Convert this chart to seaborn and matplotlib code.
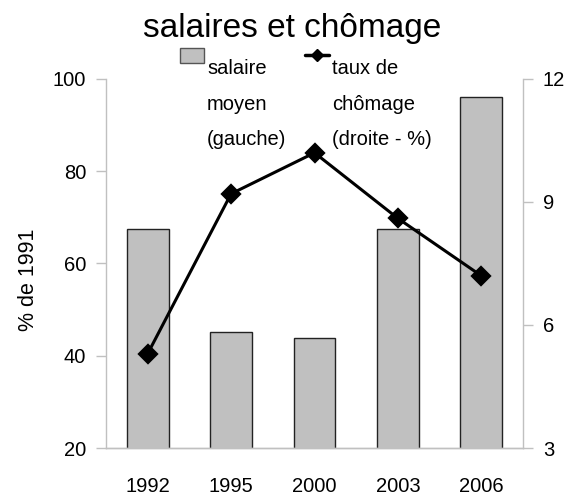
import pandas as pd
import matplotlib.pyplot as plt
import seaborn as sns
from matplotlib.patches import Patch
from matplotlib.lines import Line2D

# data
years = ["1992", "1995", "2000", "2003", "2006"]
salaire = [67.5, 45.2, 43.9, 67.5, 96.2]      # % de 1991 (left axis)
chomage = [5.3, 9.2, 10.2, 8.6, 7.2]          # % (right axis)

df = pd.DataFrame({"annee": years, "salaire": salaire, "chomage": chomage})

sns.set_style("white")
plt.rcParams["font.family"] = ["Liberation Sans", "DejaVu Sans"]
plt.rcParams["text.color"] = "black"
plt.rcParams["axes.labelcolor"] = "black"

grey = "#C0C0C0"
fs = 14.5

fig = plt.figure(figsize=(5.68, 4.98), dpi=100)
ax = fig.add_axes([0.1866, 0.1004, 0.7342, 0.741])

sns.barplot(data=df, x="annee", y="salaire", color="#C0C0C0", saturation=1,
            width=0.5, edgecolor="#222222", linewidth=1, ax=ax)

ax2 = ax.twinx()
sns.pointplot(data=df, x="annee", y="chomage", color="black", markers="D",
              linestyles="-", linewidth=2.2, markersize=9, ax=ax2)

ax.set_ylim(20, 100)
ax.set_yticks([20, 40, 60, 80, 100])
ax2.set_ylim(3, 12)
ax2.set_yticks([3, 6, 9, 12])
ax.set_xlim(-0.5, 4.5)

for a in (ax, ax2):
    for s in a.spines.values():
        s.set_color(grey)
        s.set_linewidth(1)
    a.spines["top"].set_visible(False)
    a.tick_params(colors=grey, labelcolor="black", labelsize=fs,
                  length=7.2, width=1, direction="out", pad=7)
    a.set_xlabel("")
ax2.spines["left"].set_visible(False)
ax.spines["right"].set_visible(False)
ax2.set_ylabel("")
ax.set_ylabel("% de 1991", fontsize=15.5, labelpad=10)
ax.yaxis.label.set_y(0.455)
ax.tick_params(axis="x", pad=14)

fig.text(0.514, 1 - 37 / 498, "salaires et chômage", fontsize=24,
         ha="center", va="baseline")

handles = [Patch(facecolor="#C0C0C0", edgecolor="#555555", linewidth=1),
           Line2D([], [], color="black", lw=2.5, marker="D", markersize=6)]
labels = ["salaire\nmoyen\n(gauche)", "taux de\nchômage\n(droite - %)"]
leg = fig.legend(handles, labels, ncol=2, frameon=False, fontsize=fs,
                 loc="upper left", bbox_to_anchor=(180 / 568, 1 - 48 / 498),
                 handlelength=1.2, handleheight=0.75, handletextpad=0.15,
                 columnspacing=0.9, borderaxespad=0, borderpad=0)
for t in leg.get_texts():
    t.set_linespacing(2.1)
    t.set_y(-11)  # labels sit a little below their symbols
# put the symbols level with the top of each label
for col in leg._legend_handle_box.get_children():
    for row in col.get_children():
        row.align = "top"

fig.savefig("out.png", dpi=100)
